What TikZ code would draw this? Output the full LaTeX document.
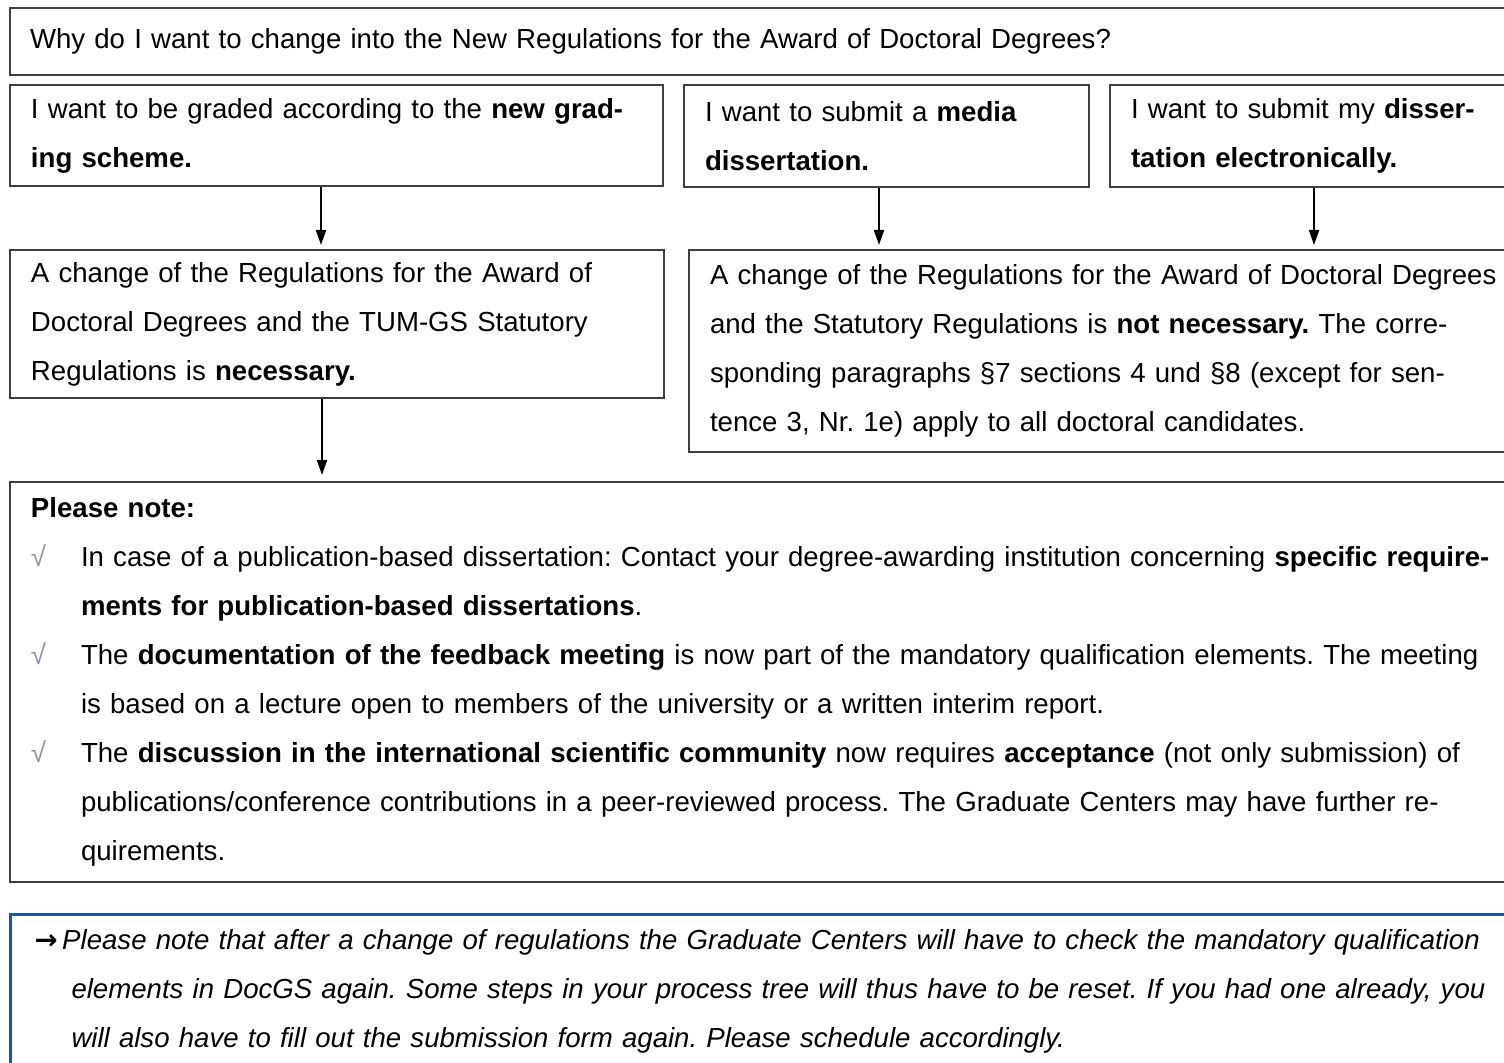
\documentclass[tikz,border=0pt]{standalone}
\usepackage{fontspec}
\setmainfont{Liberation Sans}
\newfontfamily\arrowfont{DejaVu Sans}
\usetikzlibrary{arrows.meta}

\definecolor{boxgray}{RGB}{64,64,64}
\definecolor{hintblue}{RGB}{31,84,150}
\definecolor{checkgray}{RGB}{150,140,165}

\newcommand{\chkmark}{\makebox[25pt][l]{\textcolor{checkgray}{√}}}
\newcommand{\itemind}{\hspace*{25pt}}
\frenchspacing

\tikzset{every picture/.style={line width=1pt}}
\tikzset{
  textbox/.style={draw=boxgray, line width=1pt, anchor=north west, align=left,
    inner xsep=10.5pt, inner ysep=0pt, font=\fontsize{13.8}{24.5}\selectfont},
  hintbox/.style={textbox, draw=hintblue, line width=1.5pt, font=\fontsize{13.8}{24.5}\selectfont\itshape},
  downarrow/.style={-{Triangle[width=5pt,length=7.5pt]}, line width=1pt, shorten >=2pt}
}

\begin{document}
\begin{tikzpicture}[x=0.5pt,y=0.5pt,yscale=-1,xscale=1]
    \clip (0,0) rectangle (1504,1063);
    \fill[white] (0,0) rectangle (1504,1063);

    % Question
    \node [textbox, inner xsep=10pt, minimum width=800pt, minimum height=33.5pt, text width=780pt] (question) at (9,7)
      {Why do I want to change into the New Regulations for the Award of Doctoral Degrees?};

    % Reasons
    \node [textbox, minimum width=326.5pt, minimum height=50.5pt, text width=305.5pt] (grading) at (9,84)
      {I want to be graded according to the \textbf{new grad-}\\\textbf{ing scheme.}};
    \node [textbox, minimum width=202.5pt, minimum height=51pt, text width=181.5pt] (media) at (683,84)
      {I want to submit a \textbf{media}\\\textbf{dissertation.}};
    \node [textbox, minimum width=260pt, minimum height=51pt, text width=239pt] (electronic) at (1109,84)
      {I want to submit my \textbf{disser-}\\\textbf{tation electronically.}};

    % Consequences
    \node [textbox, minimum width=327pt, minimum height=74pt, text width=306pt] (necessary) at (9,249)
      {A change of the Regulations for the Award of\\Doctoral Degrees and the TUM-GS Statutory\\Regulations is \textbf{necessary.}};
    \node [textbox, minimum width=500pt, minimum height=101pt, text width=479pt] (notnecessary) at (688,249)
      {A change of the Regulations for the Award of Doctoral Degrees\\and the Statutory Regulations is \textbf{not necessary.} The corre-\\sponding paragraphs §7 sections 4 und §8 (except for sen-\\tence 3, Nr. 1e) apply to all doctoral candidates.};

    % Please note
    \node [textbox, minimum width=800pt, minimum height=200pt, text width=779pt] (note) at (9,481)
      {\textbf{Please note:}\\
       \chkmark In case of a publication-based dissertation: Contact your degree-awarding institution concerning \textbf{specific require-}\\
       \itemind\textbf{ments for publication-based dissertations}.\\
       \chkmark The \textbf{documentation of the feedback meeting} is now part of the mandatory qualification elements. The meeting\\
       \itemind is based on a lecture open to members of the university or a written interim report.\\
       \chkmark The \textbf{discussion in the international scientific community} now requires \textbf{acceptance} (not only submission) of\\
       \itemind publications/conference contributions in a peer-reviewed process. The Graduate Centers may have further re-\\
       \itemind quirements.};

    % Hint
    \node [hintbox, inner xsep=12pt, minimum width=800pt, minimum height=77pt, text width=776pt] (hint) at (9,913)
      {{\arrowfont\upshape\bfseries →}\,Please note that after a change of regulations the Graduate Centers will have to check the mandatory qualification\\
       \hspace*{18.5pt}elements in DocGS again. Some steps in your process tree will thus have to be reset. If you had one already, you\\
       \hspace*{18.5pt}will also have to fill out the submission form again. Please schedule accordingly.};

    % Arrows
    \draw [downarrow] (grading.south -| 321,0) -- (necessary.north -| 321,0);
    \draw [downarrow] (media.south -| 879,0) -- (notnecessary.north -| 879,0);
    \draw [downarrow] (electronic.south -| 1314,0) -- (notnecessary.north -| 1314,0);
    \draw [downarrow, shorten >=3pt] (necessary.south -| 322,0) -- (note.north -| 322,0);

\end{tikzpicture}
\end{document}
